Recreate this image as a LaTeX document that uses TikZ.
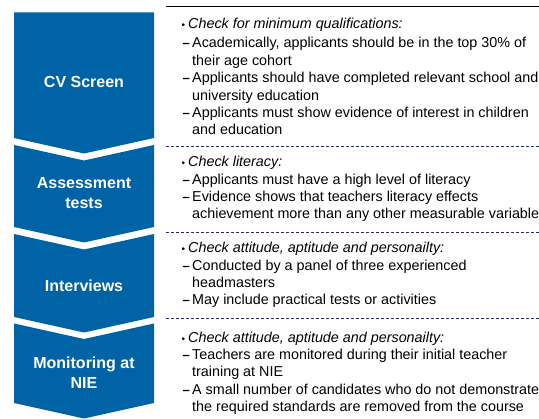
\documentclass[tikz,border=0pt]{standalone}
\usepackage{fontspec}
\setmainfont{Liberation Sans}
\definecolor{stepblue}{RGB}{0,99,166}
\definecolor{dashnavy}{RGB}{30,40,110}
\begin{document}
\begin{tikzpicture}[x=1pt,y=-1pt,
  chev/.style={fill=stepblue,draw=none},
  lbl/.style={text=white,font=\fontsize{16}{20}\selectfont\bfseries,align=center,inner sep=0pt,anchor=center},
  bodytxt/.style={anchor=base west,inner sep=0pt,font=\fontsize{14.35}{17}\selectfont},
  headtxt/.style={anchor=base west,inner sep=0pt,font=\fontsize{14.35}{17}\selectfont\itshape},
  bul/.style={anchor=base west,inner sep=0pt,font=\fontsize{10}{10}\selectfont},
  dsh/.style={anchor=base west,inner sep=0pt,font=\fontsize{13}{17}\selectfont\bfseries},
  sepline/.style={draw=dashnavy,line width=0.8pt,dash pattern=on 3pt off 2pt},
  topline/.style={draw=black,line width=0.9pt}]
\useasboundingbox (0,0) rectangle (539,419);
% chevrons
\fill[chev] (14,12.3) -- (154,12.3) -- (154,138) -- (84,153.5) -- (14,138) -- cycle;
\fill[chev] (14,145) -- (84,160.5) -- (154,145) -- (154,227) -- (84,242.5) -- (14,227) -- cycle;
\fill[chev] (14,234) -- (84,249.5) -- (154,234) -- (154,317) -- (84,332.5) -- (14,317) -- cycle;
\fill[chev] (14,323.5) -- (84,339) -- (154,323.5) -- (154,403) -- (84,418.5) -- (14,403) -- cycle;
% labels
\node[lbl] (l1) at (84,82) {CV Screen};
\node[lbl] (l2) at (84,193) {Assessment\\tests};
\node[lbl] (l3) at (84,286) {Interviews};
\node[lbl] (l4) at (84,373) {Monitoring at\\NIE};
% rules
\coordinate (r0a) at (166,6); \coordinate (r0b) at (539,6);
\draw[topline] (r0a) -- (r0b);
\coordinate (r1a) at (166,146); \coordinate (r1b) at (539,146);
\draw[sepline] (r1a) -- (r1b);
\coordinate (r2a) at (166,232); \coordinate (r2b) at (539,232);
\draw[sepline] (r2a) -- (r2b);
\coordinate (r3a) at (166,318); \coordinate (r3b) at (539,318);
\draw[sepline] (r3a) -- (r3b);
% section 1
\node[bul] (b1) at (181.5,28.5) {•};
\node[headtxt] (h1) at (188,29) {Check for minimum qualifications:};
\node[dsh] (d11) at (182.5,48) {–};
\node[bodytxt] (t11) at (192,48) {Academically, applicants should be in the top 30\% of};
\node[bodytxt] (t12) at (192,66) {their age cohort};
\node[dsh] (d12) at (182.5,83) {–};
\node[bodytxt] (t13) at (192,83) {Applicants should have completed relevant school and};
\node[bodytxt] (t14) at (192,101) {university education};
\node[dsh] (d13) at (182.5,118) {–};
\node[bodytxt] (t15) at (192,118) {Applicants must show evidence of interest in children};
\node[bodytxt] (t16) at (192,135) {and education};
% section 2
\node[bul] (b2) at (181.5,166.5) {•};
\node[headtxt] (h2) at (188,167) {Check literacy:};
\node[dsh] (d21) at (182.5,185) {–};
\node[bodytxt] (t21) at (192,185) {Applicants must have a high level of literacy};
\node[dsh] (d22) at (182.5,202) {–};
\node[bodytxt] (t22) at (192,202) {Evidence shows that teachers literacy effects};
\node[bodytxt] (t23) at (192,219) {achievement more than any other measurable variable};
% section 3
\node[bul] (b3) at (181.5,252.5) {•};
\node[headtxt] (h3) at (188,253) {Check attitude, aptitude and personailty:};
\node[dsh] (d31) at (182.5,271) {–};
\node[bodytxt] (t31) at (192,271) {Conducted by a panel of three experienced};
\node[bodytxt] (t32) at (192,288) {headmasters};
\node[dsh] (d32) at (182.5,305) {–};
\node[bodytxt] (t33) at (192,305) {May include practical tests or activities};
% section 4
\node[bul] (b4) at (181.5,342.5) {•};
\node[headtxt] (h4) at (188,343) {Check attitude, aptitude and personailty:};
\node[dsh] (d41) at (182.5,360) {–};
\node[bodytxt] (t41) at (192,360) {Teachers are monitored during their initial teacher};
\node[bodytxt] (t42) at (192,377) {training at NIE};
\node[dsh] (d42) at (182.5,395) {–};
\node[bodytxt] (t43) at (192,395) {A small number of candidates who do not demonstrate};
\node[bodytxt] (t44) at (192,412) {the required standards are removed from the course};
\end{tikzpicture}
\end{document}
